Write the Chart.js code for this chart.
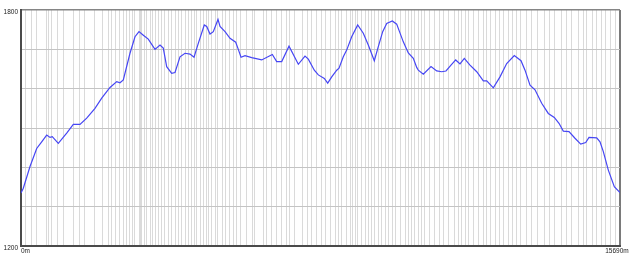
<!DOCTYPE html>
<html>
<head>
<meta charset="utf-8">
<script src="https://cdn.jsdelivr.net/npm/chart.js@4/dist/chart.umd.min.js"></script>
<style>
  html, body { margin: 0; padding: 0; background: #ffffff; }
  #wrap { width: 640px; height: 258px; position: relative; }
</style>
</head>
<body>
<div id="wrap"><canvas id="c" width="640" height="258"></canvas></div>
<script>
// Distance along the track (m)
const distances = [0, 60, 236, 411, 542, 673, 760, 820, 977, 1197, 1370, 1545, 1721, 1938, 2114, 2331, 2507, 2593,
  2680, 2855, 2986, 3091, 3204, 3334, 3510, 3641, 3727, 3816, 3947, 4034, 4165, 4296, 4427, 4532, 4644, 4801, 4864,
  4951, 5037, 5160, 5213, 5344, 5475, 5624, 5692, 5763, 5868, 6043, 6305, 6583, 6698, 6829, 7020, 7264, 7439, 7526,
  7683, 7788, 7945, 8034, 8139, 8270, 8330, 8442, 8531, 8662, 8819, 8966, 9097, 9254, 9359, 9474, 9579, 9726, 9841,
  10014, 10145, 10276, 10365, 10407, 10538, 10740, 10889, 11020, 11132, 11263, 11386, 11499, 11612, 11761, 11937,
  12110, 12199, 12372, 12547, 12722, 12921, 13097, 13202, 13333, 13464, 13639, 13812, 13969, 14092, 14205, 14354,
  14511, 14661, 14792, 14878, 15080, 15166, 15253, 15384, 15541, 15690];
// Elevation (m)
const elevations = [1335, 1347, 1402, 1448, 1465, 1482, 1476, 1478, 1461, 1487, 1509, 1509, 1525, 1550, 1576, 1603, 1618, 1615,
  1622, 1690, 1732, 1745, 1736, 1726, 1700, 1711, 1703, 1656, 1639, 1641, 1681, 1690, 1688, 1680, 1715, 1762, 1758,
  1739, 1745, 1776, 1758, 1745, 1728, 1718, 1700, 1680, 1684, 1679, 1673, 1687, 1669, 1669, 1708, 1662, 1683, 1675,
  1647, 1635, 1626, 1614, 1630, 1647, 1652, 1681, 1698, 1732, 1762, 1741, 1711, 1671, 1707, 1745, 1766, 1772, 1764,
  1719, 1691, 1677, 1654, 1647, 1637, 1656, 1645, 1643, 1645, 1660, 1673, 1663, 1677, 1660, 1643,
  1620, 1620, 1602, 1630, 1664, 1684, 1671, 1647, 1609, 1597, 1563, 1537, 1527, 1512, 1492, 1491,
  1474, 1459, 1463, 1476, 1475, 1465, 1440, 1393, 1351, 1336];
// Vertical grid marks (m)
const gridDistances = [0, 118, 262, 393, 681, 733, 786, 969, 1108, 1370, 1545, 1663, 1938, 2122, 2279, 2376, 2475, 2593,
  2680, 2769, 2842, 2908, 2973, 3091, 3130, 3169, 3235, 3300, 3379, 3450, 3510, 3596, 3686, 3754, 3858, 3947, 4034,
  4120, 4209, 4314, 4382, 4453, 4539, 4602, 4689, 4775, 4846, 4906, 4995, 5082, 5160, 5265, 5344, 5449, 5561, 5650,
  5737, 5912, 6059, 6129, 6347, 6436, 6567, 6698, 6829, 6960, 7046, 7177, 7368, 7510, 7615, 7746, 7876, 7963, 8094,
  8225, 8311, 8400, 8531, 8618, 8678, 8749, 8819, 8924, 9011, 9097, 9168, 9254, 9359, 9448, 9535, 9621, 9726, 9797,
  9928, 10059, 10145, 10234, 10320, 10407, 10496, 10582, 10713, 10844, 10949, 11062, 11193, 11350, 11455, 11544,
  11630, 11717, 11848, 11979, 12110, 12199, 12285, 12416, 12521, 12633, 12764, 12869, 12984, 13071, 13246, 13359,
  13534, 13725, 13855, 13986, 14163, 14294, 14425, 14598, 14729, 14818, 14965, 15080, 15193, 15316, 15431, 15560, 15690];
const yMin = 1200, yMax = 1800, yStep = 100;
const xMin = 0, xMax = 15690;
const yTickLabels = { 1200: '1200', 1800: '1800' };
const xTickLabels = [ { value: 0, text: '0m' }, { value: 15690, text: '15690m' } ];

const FONT = '6.5px "Liberation Sans", Arial, sans-serif';

const xLabelPlugin = {
  id: 'xLabels',
  afterDraw(chart) {
    const ctx = chart.ctx, xs = chart.scales.x, area = chart.chartArea;
    ctx.save();
    ctx.font = FONT;
    ctx.fillStyle = '#222';
    ctx.textBaseline = 'top';
    xTickLabels.forEach((l, i) => {
      const px = xs.getPixelForValue(l.value);
      if (i === 0) { ctx.textAlign = 'left'; ctx.fillText(l.text, px, area.bottom + 2); }
      else { ctx.textAlign = 'center'; ctx.fillText(l.text, px - 3, area.bottom + 2); }
    });
    ctx.restore();
  }
};

new Chart(document.getElementById('c'), {
  type: 'line',
  data: {
    datasets: [{
      data: distances.map((d, i) => ({ x: d, y: elevations[i] })),
      borderColor: '#4646f4',
      borderWidth: 1.2,
      pointRadius: 0,
      tension: 0,
      fill: false
    }]
  },
  options: {
    responsive: false,
    animation: false,
    devicePixelRatio: 1,
    layout: { padding: { left: 0, right: 20, top: 10, bottom: 0 } },
    plugins: { legend: { display: false }, tooltip: { enabled: false } },
    scales: {
      x: {
        type: 'linear',
        min: xMin, max: xMax,
        afterBuildTicks(scale) { scale.ticks = gridDistances.map(v => ({ value: v })); },
        afterFit(scale) { scale.height = 12; },
        ticks: { display: false, autoSkip: false },
        grid: {
          drawTicks: false,
          color: ctx => (ctx.tick && ctx.tick.value === xMax) ? '#7a7a7a' : '#dadada',
          lineWidth: ctx => (ctx.tick && ctx.tick.value === xMax) ? 2 : 1
        },
        border: { display: true, color: '#4a4a4a', width: 2 }
      },
      y: {
        min: yMin, max: yMax,
        afterFit(scale) { scale.width = 21; },
        ticks: {
          stepSize: yStep,
          padding: 3,
          labelOffset: 2,
          color: '#222',
          font: { family: '"Liberation Sans", Arial, sans-serif', size: 6.5 },
          callback: v => yTickLabels[v] || ''
        },
        grid: {
          drawTicks: false,
          color: ctx => (ctx.tick && ctx.tick.value === yMax) ? '#858585' : '#c4c4c4',
          lineWidth: ctx => (ctx.tick && ctx.tick.value === yMax) ? 1.5 : 1
        },
        border: { display: true, color: '#4a4a4a', width: 2 }
      }
    }
  },
  plugins: [xLabelPlugin]
});
</script>
</body>
</html>
